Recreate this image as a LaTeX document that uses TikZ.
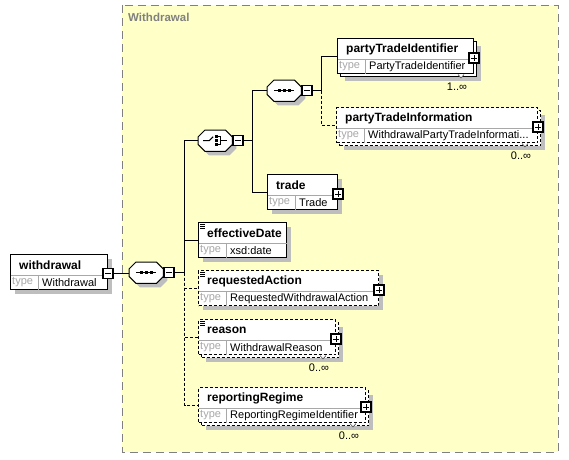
\documentclass[tikz,border=0pt]{standalone}
\usepackage{fontspec}
\setmainfont{Liberation Sans}
\usetikzlibrary{shadows}

\definecolor{groupfill}{HTML}{FFFFC8}
\definecolor{groupline}{HTML}{808080}
\definecolor{shadowgray}{HTML}{BEBEBE}
\definecolor{dividergray}{HTML}{A8A8A8}

% element box: [style]{name}{x}{y}{width}{title}{type}
\newcommand{\xsdelem}[7][]{%
  \node[elembox, #1, minimum width=#5pt, anchor=north west] (#2) at (#3,#4) {};
  \draw[divider] ([yshift=-21pt]#2.north west) -- ([yshift=-21pt]#2.north east);
  \draw[divider] ([xshift=28pt,yshift=-21pt]#2.north west) -- ([xshift=28pt]#2.south west);
  \node[elemname, anchor=west] at ([xshift=9pt,yshift=-11pt]#2.north west) {#6};
  \node[typelabel, anchor=west] at ([xshift=2pt,yshift=-28.5pt]#2.north west) {type};
  \node[typename, anchor=west] at ([xshift=32pt,yshift=-28.5pt]#2.north west) {#7};
}
% second box behind a repeated element: [style]{name}{x}{y}{width}
\newcommand{\xsdback}[5][]{%
  \node[elembox, boxshadow, #1, minimum width=#5pt, anchor=north west] (#2) at ({#3+3},{#4+3}) {};
}
% compositor octagon: {name}{x}{y}{width}
\newcommand{\xsdcomp}[4]{%
  \node[rectangle, minimum width=#4pt, minimum height=21pt, inner sep=0pt, anchor=north west] (#1) at (#2,#3) {};
  \filldraw[compositor] ([xshift=7pt]#1.north west) -- ([xshift=-7pt]#1.north east)
    -- ([yshift=-7pt]#1.north east) -- ([yshift=7pt]#1.south east)
    -- ([xshift=-7pt]#1.south east) -- ([xshift=7pt]#1.south west)
    -- ([yshift=7pt]#1.south west) -- ([yshift=-7pt]#1.north west) -- cycle;
}
\newcommand{\seqicon}[1]{%
  \draw[line width=1pt, shift={(#1.center)}] (-10,0) -- (10,0);
  \foreach \dx in {-5,0,5}
    \fill[shift={(#1.center)}] (\dx-1.6,-1.6) rectangle (\dx+1.6,1.6);
}
\newcommand{\choiceicon}[1]{%
  \begin{scope}[shift={(#1.center)}, line width=1pt]
    \draw (-12,0) -- (-6,0) -- (-2,-4);
    \foreach \dy in {-4,0,4}
      \fill (-0.5,\dy-1.5) rectangle (2.5,\dy+1.5);
    \draw (3,-4) -- (5,-4) -- (5,4) -- (3,4);
    \draw (5,0) -- (12,0);
  \end{scope}
}
% simple content mark
\newcommand{\simplemark}[1]{%
  \foreach \dy in {2,4,6}
    \draw[line width=0.8pt] ([shift={(2,\dy)}]#1.north west) -- ++(5,0);
}
% occurrence mark below a repeated element: {name}{text}
\newcommand{\occurs}[2]{%
  \filldraw[fill=white, draw=black!70, line width=0.6pt] ([shift={(-16,0.5)}]#1.south east)
    -- ([shift={(-13,4)}]#1.south east) -- ([shift={(-10,0.5)}]#1.south east);
  \node[occtext] (#1occ) at ([shift={(-17,13)}]#1.south east) {#2};
}

\begin{document}
\begin{tikzpicture}[x=1pt, y=-1pt,
    elembox/.style={rectangle, draw, fill=white, line width=1pt, minimum height=35pt, inner sep=0pt},
    optline/.style={dash pattern=on 3pt off 2pt},
    boxshadow/.style={drop shadow={shadow xshift=4pt, shadow yshift=-4pt, fill=shadowgray, opacity=1}},
    divider/.style={draw=dividergray, line width=0.8pt, shorten <=0.5pt, shorten >=0.5pt},
    elemname/.style={inner sep=0pt, font=\fontsize{12}{14}\selectfont\bfseries},
    typelabel/.style={inner sep=0pt, text=dividergray, font=\fontsize{11}{13}\selectfont},
    typename/.style={inner sep=0pt, font=\fontsize{11}{13}\selectfont},
    occtext/.style={inner sep=0pt, font=\fontsize{11}{13}\selectfont},
    compositor/.style={fill=white, draw, line width=1pt, boxshadow},
    togglebox/.style={rectangle, draw, fill=white, line width=1.2pt, minimum size=10pt, inner sep=0pt},
    minusbox/.style={togglebox, path picture={\draw[line width=1pt]
        ([xshift=2pt]path picture bounding box.west) -- ([xshift=-2pt]path picture bounding box.east);}},
    plusbox/.style={togglebox, path picture={\draw[line width=1pt]
        ([xshift=2pt]path picture bounding box.west) -- ([xshift=-2pt]path picture bounding box.east)
        ([yshift=-2pt]path picture bounding box.north) -- ([yshift=2pt]path picture bounding box.south);}}]
  \useasboundingbox (0,0) rectangle (569,459);

  % complex type group
  \filldraw[fill=groupfill, draw=groupline, line width=1pt, dash pattern=on 8pt off 5pt]
    (122,5) rectangle (558,452);
  \node[inner sep=0pt, anchor=west, text=groupline, font=\fontsize{11.5}{13}\selectfont\bfseries]
    (grouplabel) at (128,17) {Withdrawal};

  % root element
  \xsdelem[boxshadow]{withdrawal}{10}{254}{97}{withdrawal}{Withdrawal}
  \node[minusbox] (withdrawalm) at ([yshift=-1.5pt]withdrawal.east) {};

  % compositors
  \xsdcomp{mainseq}{129}{262}{34}
  \seqicon{mainseq}
  \node[minusbox, anchor=west] (mainseqm) at (mainseq.east) {};

  \xsdcomp{choice}{198}{130}{34}
  \choiceicon{choice}
  \node[minusbox, anchor=west] (choicem) at (choice.east) {};

  \xsdcomp{ptseq}{267}{80}{34}
  \seqicon{ptseq}
  \node[minusbox, anchor=west] (ptseqm) at (ptseq.east) {};

  % child elements
  \xsdback{ptiback}{337}{38}{136}
  \xsdelem{pti}{337}{38}{136}{partyTradeIdentifier}{PartyTradeIdentifier}
  \node[plusbox] (ptiplus) at ([yshift=-2pt]pti.east) {};
  \occurs{pti}{1..∞}

  \xsdback[optline]{ptinfoback}{336}{107}{201}
  \xsdelem[optline]{ptinfo}{336}{107}{201}{partyTradeInformation}{WithdrawalPartyTradeInformati...}
  \node[plusbox] (ptinfoplus) at ([yshift=-2pt]ptinfo.east) {};
  \occurs{ptinfo}{0..∞}

  \xsdelem[boxshadow]{trade}{267}{174}{70}{trade}{Trade}
  \node[plusbox] (tradeplus) at ([yshift=-2pt]trade.east) {};

  \xsdelem[boxshadow]{effdate}{198}{222}{88}{effectiveDate}{xsd:date}
  \simplemark{effdate}

  \xsdelem[boxshadow, optline]{reqaction}{198}{270}{180}{requestedAction}{RequestedWithdrawalAction}
  \node[plusbox] (reqactionplus) at ([yshift=-2pt]reqaction.east) {};
  \simplemark{reqaction}

  \xsdback[optline]{reasonback}{198}{319}{137}
  \xsdelem[optline]{reason}{198}{319}{137}{reason}{WithdrawalReason}
  \node[plusbox] (reasonplus) at ([yshift=-2pt]reason.east) {};
  \simplemark{reason}
  \occurs{reason}{0..∞}

  \xsdback[optline]{regimeback}{198}{387}{167}
  \xsdelem[optline]{regime}{198}{387}{167}{reportingRegime}{ReportingRegimeIdentifier}
  \node[plusbox] (regimeplus) at ([yshift=-2pt]regime.east) {};
  \occurs{regime}{0..∞}

  % connectors
  \coordinate (mainbus) at ([xshift=10pt]mainseqm.east);
  \coordinate (choicebus) at ([xshift=9pt]choicem.east);
  \coordinate (ptbus) at ([xshift=9pt]ptseqm.east);

  \draw[line width=1pt] (withdrawalm.east) -- (withdrawalm.east -| mainseq.west);
  \draw[line width=1pt] (mainseqm.east) -- (mainbus);
  \draw[line width=1pt] (mainbus) |- (choice.west);
  \draw[line width=1pt] (mainbus) |- (effdate.west);
  \draw[line width=1pt, optline] (mainbus) |- (reqaction.west);
  \draw[line width=1pt, optline] (mainbus) |- (reason.west);
  \draw[line width=1pt, optline] (mainbus) |- (regime.west);

  \draw[line width=1pt] (choicem.east) -- (choicebus);
  \draw[line width=1pt] (choicebus) |- (ptseq.west);
  \draw[line width=1pt] (choicebus) |- (trade.west);

  \draw[line width=1pt] (ptseqm.east) -- (ptbus);
  \draw[line width=1pt] (ptbus) |- (pti.west);
  \draw[line width=1pt, optline] (ptbus) |- (ptinfo.west);
\end{tikzpicture}
\end{document}
